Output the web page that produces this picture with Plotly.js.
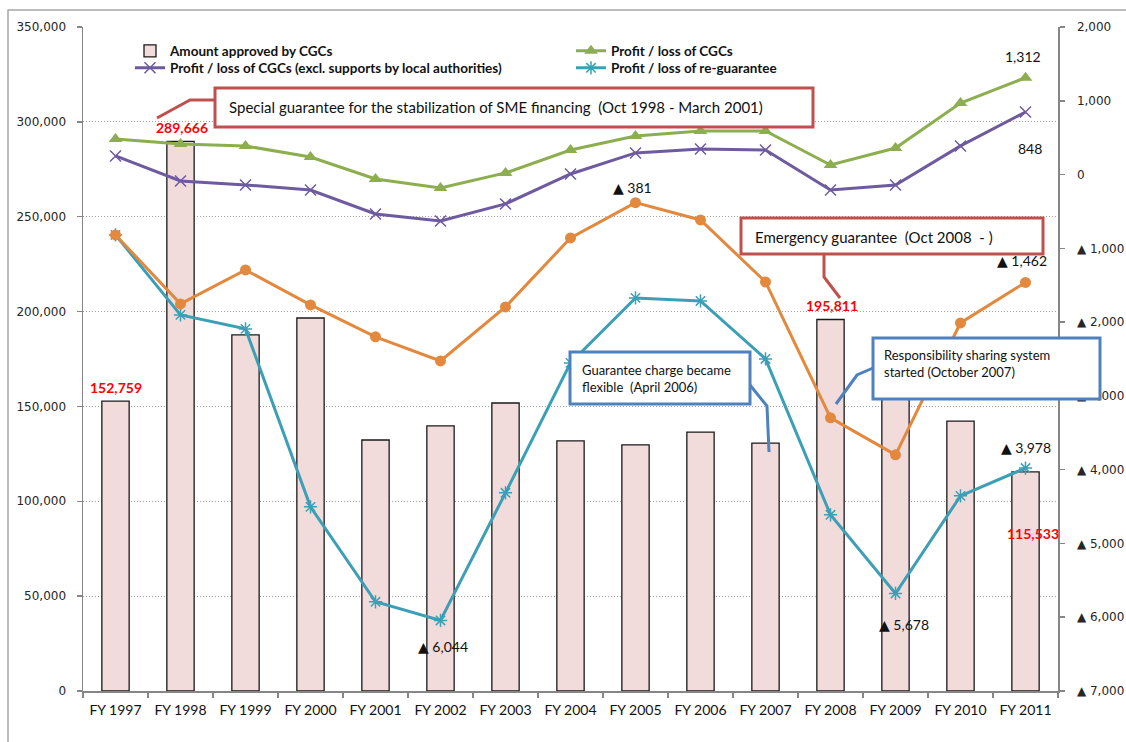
<!DOCTYPE html>
<html>
<head>
<meta charset="utf-8">
<script src="https://cdn.plot.ly/plotly-3.0.1.min.js"></script>
<style>
  html, body { margin: 0; padding: 0; background: #ffffff; }
  #chart { width: 1126px; height: 742px; }
</style>
</head>
<body>
<div id="chart"></div>
<script>
// Fiscal years on the category axis
const years = ['FY 1997', 'FY 1998', 'FY 1999', 'FY 2000', 'FY 2001', 'FY 2002', 'FY 2003',
  'FY 2004', 'FY 2005', 'FY 2006', 'FY 2007', 'FY 2008', 'FY 2009', 'FY 2010', 'FY 2011'];

// Amount approved by CGCs (left axis)
const amountApproved = [152759, 289666, 187700, 196600, 132300, 139700, 151800,
  131800, 129700, 136500, 130700, 195811, 159000, 142300, 115533];

// Profit / loss series (right axis, negative = loss)
const profitCGC = [482, 415, 388, 238, -60, -182, 22, 333, 523, 591, 591, 130, 360, 970, 1312];
const profitCGCExcl = [252, -87, -141, -209, -534, -629, -398, 8, 293, 347, 333, -209, -141, 388, 848];
const profitReguarantee = [-818, -1902, -2092, -4504, -5791, -6044, -4314, -2553, -1672, -1713,
  -2499, -4612, -5678, -4355, -3978];
const profitCombined = [-818, -1753, -1293, -1767, -2200, -2526, -1794, -859, -381, -615,
  -1455, -3298, -3799, -2011, -1462];

// Right axis ticks
const rightTicks = [2000, 1000, 0, -1000, -2000, -3000, -4000, -5000, -6000, -7000];

const nf = new Intl.NumberFormat('en-US');
const fmtSigned = v => (v < 0 ? '\u25B2 ' + nf.format(-v) : nf.format(v));
// Same format, with the triangle set in a font that has the glyph at full size
const fmtSignedRich = v => (v < 0
  ? '<span style="font-family:\'DejaVu Sans\'">\u25B2</span> ' + nf.format(-v)
  : nf.format(v));

// Plot area in pixels
const W = 1126, H = 742;
const M = { l: 83, r: 68, t: 27, b: 51 };
const PW = W - M.l - M.r, PH = H - M.t - M.b;
const px = x => (x - M.l) / PW;
const py = y => (H - M.b - y) / PH;

const cBar = '#f2dcdb', cGreen = '#8cae4e', cPurple = '#6e5a9e', cTeal = '#3c9fb6', cOrange = '#e2893e';
const cRed = '#c0504d', cBlue = '#4f81bd';
const calloutFont = 'Lato, "Liberation Sans", sans-serif';

const traces = [
  {
    type: 'bar', name: 'Amount approved by CGCs', x: years, y: amountApproved, yaxis: 'y',
    legend: 'legend',
    width: 0.42, marker: { color: cBar, line: { color: '#1a1a1a', width: 1.3 } },
    hoverinfo: 'x+y'
  },
  {
    type: 'scatter', mode: 'lines+markers', name: 'Profit / loss of CGCs', x: years, y: profitCGC, yaxis: 'y2',
    legend: 'legend',
    line: { color: cGreen, width: 3 }, marker: { symbol: 'triangle-up', size: 12, color: cGreen }
  },
  {
    type: 'scatter', mode: 'lines+markers', name: 'Profit / loss of CGCs (excl. supports by local authorities)',
    x: years, y: profitCGCExcl, yaxis: 'y2', legend: 'legend2',
    line: { color: cPurple, width: 3 },
    marker: { symbol: 'x-thin-open', size: 11, color: cPurple, line: { color: cPurple, width: 1.5 } }
  },
  {
    type: 'scatter', mode: 'lines+markers', name: 'Profit / loss of re-guarantee', x: years, y: profitReguarantee, yaxis: 'y2',
    legend: 'legend2',
    line: { color: cTeal, width: 3 },
    marker: { symbol: 'asterisk-open', size: 11, color: cTeal, line: { color: cTeal, width: 1.5 } }
  },
  {
    type: 'scatter', mode: 'lines+markers', name: 'Combined profit / loss', x: years, y: profitCombined, yaxis: 'y2',
    showlegend: false,
    line: { color: cOrange, width: 3 }, marker: { symbol: 'circle', size: 11, color: cOrange }
  }
];

// Value labels attached to data points
const idx = y => years.indexOf(y);
const barLabel = (year, xs, ys) => ({
  xref: 'x', yref: 'y', x: year, y: amountApproved[idx(year)], xshift: xs, yshift: ys,
  text: nf.format(amountApproved[idx(year)]), showarrow: false,
  font: { family: calloutFont, size: 14, color: '#ff0000', weight: 'bold' }
});
const lineLabel = (series, year, xs, ys) => ({
  xref: 'x', yref: 'y2', x: year, y: series[idx(year)], xshift: xs, yshift: ys,
  text: fmtSignedRich(series[idx(year)]), showarrow: false,
  font: { family: calloutFont, size: 14, color: '#111111' }
});

const annotations = [
  barLabel('FY 1997', 0, 14),
  barLabel('FY 1998', 1, 14),
  barLabel('FY 2008', 1, 14),
  barLabel('FY 2011', 7, -62),
  lineLabel(profitCGC, 'FY 2011', -3, 21),
  lineLabel(profitCGCExcl, 'FY 2011', 4, -37),
  lineLabel(profitCombined, 'FY 2005', -3, 15),
  lineLabel(profitCombined, 'FY 2011', -4, 22),
  lineLabel(profitReguarantee, 'FY 2002', 2, -26),
  lineLabel(profitReguarantee, 'FY 2009', 8, -31),
  lineLabel(profitReguarantee, 'FY 2011', 0, 21),
  // callout texts
  {
    xref: 'paper', yref: 'paper', x: px(227), y: py(107), xanchor: 'left', yanchor: 'middle',
    showarrow: false, align: 'left',
    text: 'Special guarantee for the stabilization of SME financing \u00a0(Oct 1998 - March 2001)',
    font: { family: calloutFont, size: 15, color: '#111111' }
  },
  {
    xref: 'paper', yref: 'paper', x: px(753), y: py(237), xanchor: 'left', yanchor: 'middle',
    showarrow: false, align: 'left',
    text: 'Emergency guarantee \u00a0(Oct 2008 \u00a0- )',
    font: { family: calloutFont, size: 15, color: '#111111' }
  },
  {
    xref: 'paper', yref: 'paper', x: px(580), y: py(378), xanchor: 'left', yanchor: 'middle',
    showarrow: false, align: 'left',
    text: 'Guarantee charge became<br>flexible \u00a0(April 2006)',
    font: { family: calloutFont, size: 13, color: '#111111' }
  },
  {
    xref: 'paper', yref: 'paper', x: px(882), y: py(363), xanchor: 'left', yanchor: 'middle',
    showarrow: false, align: 'left',
    text: 'Responsibility sharing system<br>started (October 2007)',
    font: { family: calloutFont, size: 13, color: '#111111' }
  }
];

const rect = (x0, y0, x1, y1, color) => ({
  type: 'rect', xref: 'paper', yref: 'paper', layer: 'above',
  x0: px(x0), x1: px(x1), y0: py(y1), y1: py(y0),
  line: { color: color, width: 3 }, fillcolor: '#ffffff'
});
const path = (pts, color) => ({
  type: 'path', xref: 'paper', yref: 'paper', layer: 'above',
  path: pts.map((p, i) => (i ? 'L' : 'M') + px(p[0]) + ',' + py(p[1])).join(' '),
  line: { color: color, width: 3 }
});

const shapes = [
  // chart frame
  {
    type: 'rect', xref: 'paper', yref: 'paper', layer: 'below',
    x0: px(8), x1: px(1140), y0: py(760), y1: py(10),
    line: { color: '#a6a6a6', width: 1.5 }, fillcolor: 'rgba(0,0,0,0)'
  },
  path([[157, 118], [190, 100], [215, 100]], cRed),
  rect(215, 88, 813, 127, cRed),
  path([[824, 254], [824, 277], [840, 298]], cRed),
  rect(741, 218, 1043, 254, cRed),
  path([[750, 385], [767, 406], [769, 452]], cBlue),
  rect(570, 352, 750, 404, cBlue),
  path([[873, 368], [857, 375], [836, 404]], cBlue),
  rect(873, 338, 1100, 399, cBlue)
];

const tickFont = { family: '"DejaVu Sans", Verdana, sans-serif', size: 12, color: '#262626' };

// Two one-row legends stacked to give a compact two-column key
const legendBase = {
  orientation: 'h', x: px(130), xanchor: 'left', yanchor: 'middle',
  entrywidth: 396, entrywidthmode: 'pixels',
  bgcolor: 'rgba(0,0,0,0)',
  font: { family: calloutFont, size: 13.5, color: '#111111', weight: 'bold' }
};

const layout = {
  width: W, height: H, autosize: false,
  margin: M,
  paper_bgcolor: '#ffffff', plot_bgcolor: '#ffffff',
  showlegend: true,
  legend: Object.assign({}, legendBase, { y: py(51) }),
  legend2: Object.assign({}, legendBase, { y: py(68) }),
  xaxis: {
    type: 'category', range: [-0.5, years.length - 0.5],
    showline: true, linecolor: '#868686', linewidth: 1.5,
    ticks: 'outside', tickson: 'boundaries', ticklen: 5, tickcolor: '#868686', tickwidth: 1.5,
    tickangle: 0,
    tickfont: { family: calloutFont, size: 14, color: '#111111' },
    ticklabelstandoff: 6, showgrid: false, zeroline: false, fixedrange: true
  },
  yaxis: {
    range: [0, 350000], tickvals: [0, 50000, 100000, 150000, 200000, 250000, 300000, 350000],
    tickformat: ',d', showline: true, linecolor: '#868686', linewidth: 1.5,
    ticks: 'outside', ticklen: 5, tickcolor: '#868686', tickwidth: 1.5,
    tickfont: tickFont, ticklabelstandoff: 8,
    showgrid: true, gridcolor: '#a0a0a0', gridwidth: 1, griddash: '1px,2px',
    zeroline: false, fixedrange: true
  },
  yaxis2: {
    overlaying: 'y', side: 'right', range: [-7000, 2000],
    tickvals: rightTicks, ticktext: rightTicks.map(fmtSigned),
    showline: true, linecolor: '#868686', linewidth: 1.5,
    ticks: 'outside', ticklen: 5, tickcolor: '#868686', tickwidth: 1.5,
    tickfont: tickFont, ticklabelstandoff: 10,
    showgrid: false, zeroline: false, fixedrange: true
  },
  annotations: annotations,
  shapes: shapes
};

Plotly.newPlot('chart', traces, layout, { displayModeBar: false, staticPlot: true });
</script>
</body>
</html>
